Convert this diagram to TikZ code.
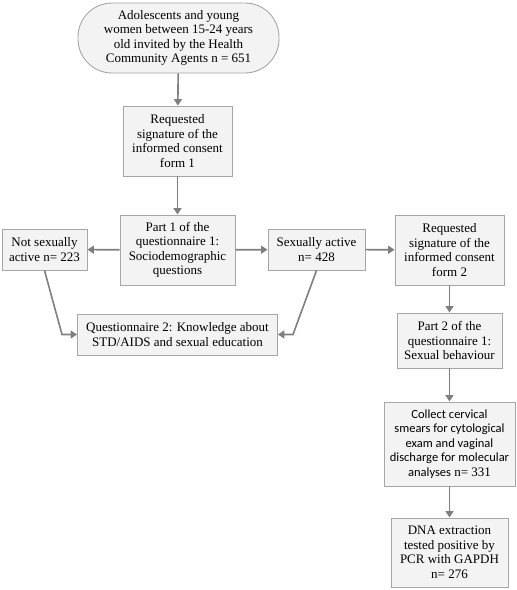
\documentclass[tikz,border=0pt]{standalone}
\usepackage{fontspec}
\setmainfont{Liberation Serif}
\newfontfamily\calfont{Carlito}
\usetikzlibrary{arrows.meta}
\definecolor{boxfill}{HTML}{F3F3F3}
\definecolor{boxline}{HTML}{A6A6A6}
\definecolor{arrowcol}{HTML}{7F7F7F}
\begin{document}
\begin{tikzpicture}[x=1pt,y=-1pt,
  box/.style={draw=boxline,fill=boxfill,line width=0.9pt,align=center,inner sep=1pt,
    font=\fontsize{13}{14.5}\selectfont},
  conn/.style={draw=arrowcol,line width=1.6pt,-{Triangle[width=8pt,length=6.5pt]}}]
\useasboundingbox (0,0) rectangle (517,590);
\node[box,rounded corners=34pt,minimum width=201pt,minimum height=70pt] (start) at (178.5,38)
  {Adolescents and young\\women between 15-24 years\\old invited by the Health\\Community Agents n = 651};
\node[box,minimum width=109pt,minimum height=70pt] (req1) at (177.5,141)
  {Requested\\signature of the\\informed consent\\form 1};
\node[box,minimum width=115pt,minimum height=70pt] (part1) at (177.5,250)
  {Part 1 of the\\questionnaire 1:\\Sociodemographic\\questions};
\node[box,minimum width=85pt,minimum height=41pt] (notsa) at (44.5,249.5)
  {Not sexually\\active n= 223};
\node[box,minimum width=97pt,minimum height=41pt] (sa) at (316.5,249.5)
  {Sexually active\\n= 428};
\node[box,minimum width=109pt,minimum height=70pt] (req2) at (449.5,250)
  {Requested\\signature of the\\informed consent\\form 2};
\node[box,minimum width=200pt,minimum height=41pt] (q2) at (177.5,334.5)
  {Questionnaire 2: Knowledge about\\STD/AIDS and sexual education};
\node[box,minimum width=105pt,minimum height=55pt] (part2) at (449.5,340.5)
  {Part 2 of the\\questionnaire 1:\\Sexual behaviour};
\node[box,minimum width=131pt,minimum height=84pt] (collect) at (449.5,444)
  {{\calfont\fontsize{12.5}{14.5}\selectfont Collect cervical}\\{\calfont\fontsize{12.5}{14.5}\selectfont smears for cytological}\\{\calfont\fontsize{12.5}{14.5}\selectfont exam and vaginal}\\{\calfont\fontsize{12.5}{14.5}\selectfont discharge for molecular}\\{\calfont\fontsize{12.5}{14.5}\selectfont analyses} n= 331};
\node[box,minimum width=117pt,minimum height=69pt] (dna) at (449.5,552.5)
  {DNA extraction\\tested positive by\\PCR with GAPDH\\n= 276};
\coordinate (lbend) at (62,334.5);
\coordinate (rbend) at (293,334.5);
\draw[conn] (start) -- (req1);
\draw[conn] (req1) -- (part1);
\draw[conn] (part1) -- (notsa);
\draw[conn] (part1) -- (sa);
\draw[conn] (sa) -- (req2);
\draw[conn] (req2) -- (part2);
\draw[conn] (part2) -- (collect);
\draw[conn] (collect) -- (dna);
\draw[conn] (notsa.south) -- (lbend) -- (q2.west);
\draw[conn] (sa.south) -- (rbend) -- (q2.east);
\end{tikzpicture}
\end{document}
